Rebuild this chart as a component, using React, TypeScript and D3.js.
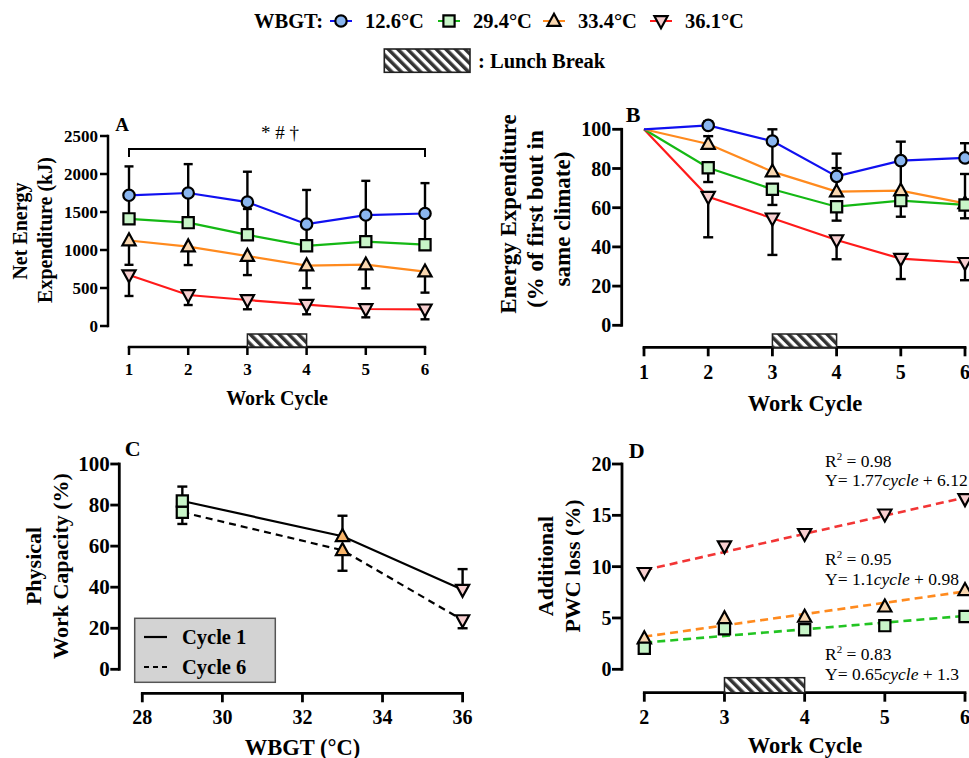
import React from "react";
import * as d3 from "d3";

// ---------- DATA ----------
const cycles = [1, 2, 3, 4, 5, 6];

// Panel A: Net energy expenditure (kJ)
const neeBlue = [1720, 1750, 1630, 1340, 1460, 1480];
const neeBlueErr = [380, 380, 400, 450, 450, 400];
const neeGreen = [1410, 1360, 1200, 1055, 1110, 1070];
const neeGreenErr = [300, 370, 340, 285, 330, 360];
const neeOrange = [1125, 1045, 920, 795, 807, 715];
const neeOrangeErr = [320, 243, 250, 297, 311, 276];
const neeRed = [670, 408, 342, 280, 224, 220];
const neeRedErr = [275, 132, 122, 126, 110, 132];

// Panel B: % of first bout
const pctBlue = [100, 102, 94, 76, 84, 85.4];
const pctBlueErr = [0, 2, 6, 11.6, 9.7, 7.5];
const pctGreen = [100, 80.4, 69.4, 60.5, 63.6, 61.4];
const pctGreenErr = [0, 7.3, 8, 7.1, 8.2, 6.8];
const pctOrange = [100, 92.5, 78.4, 68.2, 68.7, 62.2];
const pctOrangeErr = [0, 4, 14, 12, 15, 15];
const pctRed = [100, 65.6, 54.6, 43.5, 34, 31.9];
const pctRedErr = [0, 20.7, 18.7, 9.8, 10.4, 8.9];

// Panel C: Physical work capacity
const wbgtX = [29, 33, 36];
const wbgtShapes = ["square", "triUp", "triDown"];
const pwcCycle1 = [82, 64.8, 38.8];
const pwcCycle1Err = [7, 10, 10];
const pwcCycle6 = [76.5, 58, 24];
const pwcCycle6Err = [5.7, 10, 4];

// Panel D: Additional PWC loss
const dCycles = [2, 3, 4, 5, 6];
const lossRed = [9.4, 12.0, 13.2, 15.1, 16.6];
const lossOrange = [3.0, 4.95, 5.1, 6.1, 7.7];
const lossGreen = [2.05, 3.95, 3.85, 4.25, 5.15];
const fitRed = { slope: 1.77, intercept: 6.12, r2: "0.98", eq: ["1.77", "6.12"] };
const fitOrange = { slope: 1.1, intercept: 0.98, r2: "0.95", eq: ["1.1", "0.98"] };
const fitGreen = { slope: 0.65, intercept: 1.3, r2: "0.83", eq: ["0.65", "1.3"] };

// ticks
const ticksA = [0, 500, 1000, 1500, 2000, 2500];
const ticksB = [0, 20, 40, 60, 80, 100];
const ticksC = [0, 20, 40, 60, 80, 100];
const ticksCx = [28, 30, 32, 34, 36];
const ticksD = [0, 5, 10, 15, 20];

const legendItems = [
  { label: "12.6°C", color: "#1010f0", fill: "#8ab6f0", shape: "circle" },
  { label: "29.4°C", color: "#14b814", fill: "#c8f5c8", shape: "square" },
  { label: "33.4°C", color: "#ff8a1e", fill: "#f9d7b0", shape: "triUp" },
  { label: "36.1°C", color: "#ff1a1a", fill: "#f7cfd0", shape: "triDown" },
];

// ---------- STYLE ----------
const FONT = "'Liberation Serif', 'Times New Roman', Times, serif";
const BLUE = legendItems[0];
const GREEN = legendItems[1];
const ORANGE = legendItems[2];
const RED = legendItems[3];

function markerPath(shape: string, s = 1) {
  if (shape === "circle") return d3.symbol(d3.symbolCircle, Math.PI * 5.7 * 5.7 * s * s)() as string;
  if (shape === "square") {
    const h = 5.6 * s;
    return `M${-h},${-h}H${h}V${h}H${-h}Z`;
  }
  if (shape === "triUp") return `M0,${-7.2 * s}L${6.6 * s},${4.8 * s}L${-6.6 * s},${4.8 * s}Z`;
  return `M0,${7.2 * s}L${6.6 * s},${-4.8 * s}L${-6.6 * s},${-4.8 * s}Z`;
}

function Marker({ shape, x, y, fill, s = 1 }: any) {
  return (
    <path
      d={markerPath(shape, s)}
      transform={`translate(${x},${y})`}
      fill={fill}
      stroke="#000"
      strokeWidth={2.2}
      strokeLinejoin="miter"
    />
  );
}

function ErrBar({ x, y0, y1, cap = 9, w = 2.4 }: any) {
  return (
    <g stroke="#000" strokeWidth={w}>
      <line x1={x} x2={x} y1={y0} y2={y1} />
      <line x1={x - cap / 2} x2={x + cap / 2} y1={y1} y2={y1} />
    </g>
  );
}

function YAxis({ scale, ticks, x, fs, w = 2.8, tl = 8, gap = 3, fmt = (d: number) => String(d) }: any) {
  const [r0, r1] = scale.range();
  return (
    <g>
      <line x1={x} x2={x} y1={r0 + w / 2} y2={r1 - w / 2} stroke="#000" strokeWidth={w} />
      {ticks.map((t: number) => (
        <g key={t}>
          <line x1={x - tl} x2={x} y1={scale(t)} y2={scale(t)} stroke="#000" strokeWidth={w} />
          <text
            x={x - tl - gap}
            y={scale(t)}
            textAnchor="end"
            dominantBaseline="central"
            fontFamily={FONT}
            fontWeight="bold"
            fontSize={fs}
          >
            {fmt(t)}
          </text>
        </g>
      ))}
    </g>
  );
}

function XAxis({ scale, ticks, y, fs, w = 2.8, tl = 8, labelDy = 24 }: any) {
  const [r0, r1] = scale.range();
  return (
    <g>
      <line x1={r0 - w / 2} x2={r1 + w / 2} y1={y} y2={y} stroke="#000" strokeWidth={w} />
      {ticks.map((t: number) => (
        <g key={t}>
          <line x1={scale(t)} x2={scale(t)} y1={y} y2={y + tl} stroke="#000" strokeWidth={w} />
          <text
            x={scale(t)}
            y={y + labelDy}
            textAnchor="middle"
            dominantBaseline="central"
            fontFamily={FONT}
            fontWeight="bold"
            fontSize={fs}
          >
            {t}
          </text>
        </g>
      ))}
    </g>
  );
}

function BoldText({ x, y, fs, children, anchor = "middle", rotate = false }: any) {
  return (
    <text
      x={rotate ? 0 : x}
      y={rotate ? 0 : y}
      transform={rotate ? `translate(${x},${y}) rotate(-90)` : undefined}
      textAnchor={anchor}
      dominantBaseline="central"
      fontFamily={FONT}
      fontWeight="bold"
      fontSize={fs}
    >
      {children}
    </text>
  );
}

function Lunch({ xs, x0, x1, y, h = 13.5 }: any) {
  return (
    <rect
      x={xs(x0)}
      y={y - h}
      width={xs(x1) - xs(x0)}
      height={h}
      fill="url(#hatch)"
      stroke="#222"
      strokeWidth={1.5}
    />
  );
}

function Series({ xs, ys, xv, vals, errs, dir, item, lw = 2.2, cap = 9 }: any) {
  const line = d3
    .line<number>()
    .x((_, i) => xs(xv[i]))
    .y((d) => ys(d));
  return (
    <g>
      <path d={line(vals) as string} fill="none" stroke={item.color} strokeWidth={lw} />
      {vals.map((v: number, i: number) =>
        errs && errs[i] > 0 ? (
          <ErrBar key={"e" + i} x={xs(xv[i])} y0={ys(v)} y1={ys(v + dir * errs[i])} cap={cap} />
        ) : null
      )}
    </g>
  );
}

function SeriesMarkers({ xs, ys, xv, vals, item, skipFirst = false }: any) {
  return (
    <g>
      {vals.map((v: number, i: number) =>
        skipFirst && i === 0 ? null : (
          <Marker key={i} shape={item.shape} x={xs(xv[i])} y={ys(v)} fill={item.fill} />
        )
      )}
    </g>
  );
}

export default function App() {
  // Panel scales
  const xA = d3.scaleLinear().domain([1, 6]).range([129, 425]);
  const yA = d3.scaleLinear().domain([0, 2500]).range([326, 136]);
  const xB = d3.scaleLinear().domain([1, 6]).range([644, 965]);
  const yB = d3.scaleLinear().domain([0, 100]).range([325.3, 129.3]);
  const xC = d3.scaleLinear().domain([28, 36]).range([142.3, 462.6]);
  const yC = d3.scaleLinear().domain([0, 100]).range([669.3, 464]);
  const xD = d3.scaleLinear().domain([2, 6]).range([644.3, 965]);
  const yD = d3.scaleLinear().domain([0, 20]).range([669.3, 464]);

  const lineC = (vals: number[]) =>
    d3
      .line<number>()
      .x((_, i) => xC(wbgtX[i]))
      .y((d) => yC(d))(vals) as string;

  const fits = [
    { fit: fitRed, item: RED, vals: lossRed, color: "#f23535" },
    { fit: fitOrange, item: ORANGE, vals: lossOrange, color: "#ff8a1e" },
    { fit: fitGreen, item: GREEN, vals: lossGreen, color: "#22c422" },
  ];
  const annY = [
    [466.5, 486],
    [565, 585],
    [660, 679.5],
  ];

  return (
    <svg
      width={969}
      height={758}
      style={{ position: "absolute", left: 0, top: 0, background: "#fff" }}
      fontFamily={FONT}
    >
      <defs>
        <pattern id="hatch" patternUnits="userSpaceOnUse" width={6.8} height={6.8} patternTransform="rotate(-45)">
          <rect width={6.8} height={6.8} fill="#fff" />
          <rect width={3.5} height={6.8} fill="#333" />
        </pattern>
      </defs>
      <rect width={969} height={758} fill="#fff" />

      {/* ---------- Top legend ---------- */}
      <BoldText x={254} y={21} fs={20.5} anchor="start">
        WBGT:
      </BoldText>
      {legendItems.map((it, i) => {
        const mx = [341, 449, 554, 661][i];
        const tx = [365, 473, 578, 685][i];
        return (
          <g key={it.label}>
            <line x1={mx - 11} x2={mx + 11} y1={21} y2={21} stroke={it.color} strokeWidth={2} />
            <Marker shape={it.shape} x={mx} y={21} fill={it.fill} />
            <BoldText x={tx} y={21} fs={20.5} anchor="start">
              {it.label}
            </BoldText>
          </g>
        );
      })}
      <rect x={384.3} y={49} width={85.7} height={23.3} fill="url(#hatch)" stroke="#222" strokeWidth={1.6} />
      <BoldText x={478} y={61} fs={20.5} anchor="start">
        : Lunch Break
      </BoldText>

      {/* ---------- Panel A ---------- */}
      <BoldText x={122} y={124} fs={19}>A</BoldText>
      <BoldText x={20} y={231} fs={20} rotate>Net Energy</BoldText>
      <BoldText x={44.5} y={230} fs={20} rotate>Expenditure (kJ)</BoldText>
      <YAxis scale={yA} ticks={ticksA} x={108} fs={17} w={2.5} tl={8} gap={2} />
      <XAxis scale={xA} ticks={cycles} y={347} fs={17} w={2.5} tl={8} labelDy={22} />
      <Lunch xs={xA} x0={3} x1={4} y={347} h={13} />
      <BoldText x={277} y={398} fs={20}>Work Cycle</BoldText>
      <path
        d={`M${xA(1)},157V149H${xA(6)}V157`}
        fill="none"
        stroke="#000"
        strokeWidth={2}
      />
      <text x={280} y={132} textAnchor="middle" dominantBaseline="central" fontFamily={FONT} fontSize={19}>
        * # †
      </text>
      <Series xs={xA} ys={yA} xv={cycles} vals={neeRed} errs={neeRedErr} dir={-1} item={RED} />
      <Series xs={xA} ys={yA} xv={cycles} vals={neeOrange} errs={neeOrangeErr} dir={-1} item={ORANGE} />
      <Series xs={xA} ys={yA} xv={cycles} vals={neeGreen} errs={neeGreenErr} dir={1} item={GREEN} />
      <Series xs={xA} ys={yA} xv={cycles} vals={neeBlue} errs={neeBlueErr} dir={1} item={BLUE} />
      <SeriesMarkers xs={xA} ys={yA} xv={cycles} vals={neeRed} item={RED} />
      <SeriesMarkers xs={xA} ys={yA} xv={cycles} vals={neeOrange} item={ORANGE} />
      <SeriesMarkers xs={xA} ys={yA} xv={cycles} vals={neeGreen} item={GREEN} />
      <SeriesMarkers xs={xA} ys={yA} xv={cycles} vals={neeBlue} item={BLUE} />

      {/* ---------- Panel B ---------- */}
      <BoldText x={633} y={114} fs={22}>B</BoldText>
      <BoldText x={508} y={214} fs={23} rotate>Energy Expenditure</BoldText>
      <BoldText x={535} y={219} fs={23} rotate>(% of first bout in</BoldText>
      <BoldText x={562} y={219} fs={23} rotate>same climate)</BoldText>
      <YAxis scale={yB} ticks={ticksB} x={621.7} fs={20} w={2.8} tl={9.5} gap={1} />
      <XAxis scale={xB} ticks={cycles} y={347.3} fs={20} w={2.8} tl={9} labelDy={25} />
      <Lunch xs={xB} x0={3} x1={4} y={347.3} h={13.3} />
      <BoldText x={805} y={403} fs={22.5}>Work Cycle</BoldText>
      <Series xs={xB} ys={yB} xv={cycles} vals={pctRed} errs={pctRedErr} dir={-1} item={RED} cap={10} />
      <Series xs={xB} ys={yB} xv={cycles} vals={pctGreen} errs={pctGreenErr} dir={-1} item={GREEN} cap={10} />
      <Series xs={xB} ys={yB} xv={cycles} vals={pctOrange} errs={pctOrangeErr} dir={1} item={ORANGE} cap={10} />
      <Series xs={xB} ys={yB} xv={cycles} vals={pctBlue} errs={pctBlueErr} dir={1} item={BLUE} cap={10} />
      <SeriesMarkers xs={xB} ys={yB} xv={cycles} vals={pctRed} item={RED} skipFirst />
      <SeriesMarkers xs={xB} ys={yB} xv={cycles} vals={pctOrange} item={ORANGE} skipFirst />
      <SeriesMarkers xs={xB} ys={yB} xv={cycles} vals={pctGreen} item={GREEN} skipFirst />
      <SeriesMarkers xs={xB} ys={yB} xv={cycles} vals={pctBlue} item={BLUE} skipFirst />

      {/* ---------- Panel C ---------- */}
      <BoldText x={132.7} y={448} fs={22}>C</BoldText>
      <BoldText x={33} y={566} fs={22} rotate>Physical</BoldText>
      <BoldText x={60} y={566} fs={22} rotate>Work Capacity (%)</BoldText>
      <YAxis scale={yC} ticks={ticksC} x={119.3} fs={21} w={2.8} tl={9} gap={0.5} />
      <XAxis scale={xC} ticks={ticksCx} y={693.3} fs={20} w={2.8} tl={9} labelDy={24} />
      <BoldText x={302.5} y={747} fs={22.5}>WBGT (°C)</BoldText>
      <path d={lineC(pwcCycle1)} fill="none" stroke="#000" strokeWidth={2.2} />
      <path d={lineC(pwcCycle6)} fill="none" stroke="#000" strokeWidth={2.2} strokeDasharray="7,5" />
      {wbgtX.map((x, i) => (
        <g key={"c" + i}>
          <ErrBar x={xC(x)} y0={yC(pwcCycle1[i])} y1={yC(pwcCycle1[i] + pwcCycle1Err[i])} cap={10} />
          <ErrBar x={xC(x)} y0={yC(pwcCycle6[i])} y1={yC(pwcCycle6[i] - pwcCycle6Err[i])} cap={10} />
        </g>
      ))}
      {wbgtX.map((x, i) => {
        const it = legendItems.find((l) => l.shape === wbgtShapes[i])!;
        return (
          <g key={"cm" + i}>
            <Marker shape={it.shape} x={xC(x)} y={yC(pwcCycle6[i])} fill={i === 1 ? "#f7b46a" : it.fill} />
            <Marker shape={it.shape} x={xC(x)} y={yC(pwcCycle1[i])} fill={i === 1 ? "#f7b46a" : it.fill} />
          </g>
        );
      })}
      <rect x={134.7} y={618.3} width={140.6} height={64} fill="#d3d3d3" stroke="#555" strokeWidth={1.5} />
      <line x1={144} x2={167} y1={637} y2={637} stroke="#000" strokeWidth={2.2} />
      <line x1={144} x2={167} y1={667} y2={667} stroke="#000" strokeWidth={2.2} strokeDasharray="5,4" />
      <BoldText x={182} y={637} fs={20.5} anchor="start">Cycle 1</BoldText>
      <BoldText x={182} y={667} fs={20.5} anchor="start">Cycle 6</BoldText>

      {/* ---------- Panel D ---------- */}
      <BoldText x={636.7} y={450} fs={22}>D</BoldText>
      <BoldText x={545} y={566} fs={22} rotate>Additional</BoldText>
      <BoldText x={572} y={566} fs={22} rotate>PWC loss (%)</BoldText>
      <YAxis scale={yD} ticks={ticksD} x={622} fs={20} w={2.8} tl={10} gap={0.5} />
      <XAxis scale={xD} ticks={dCycles} y={692.7} fs={20} w={2.8} tl={9} labelDy={24.6} />
      <Lunch xs={xD} x0={3} x1={4} y={692.7} h={15} />
      <BoldText x={805} y={745} fs={22.5}>Work Cycle</BoldText>
      {fits.map(({ fit, color }, i) => (
        <line
          key={"f" + i}
          x1={xD(2)}
          x2={xD(6)}
          y1={yD(fit.slope * 2 + fit.intercept)}
          y2={yD(fit.slope * 6 + fit.intercept)}
          stroke={color}
          strokeWidth={2.6}
          strokeDasharray="8,5"
        />
      ))}
      <SeriesMarkers xs={xD} ys={yD} xv={dCycles} vals={lossRed} item={RED} />
      <SeriesMarkers xs={xD} ys={yD} xv={dCycles} vals={lossOrange} item={ORANGE} />
      <SeriesMarkers xs={xD} ys={yD} xv={dCycles} vals={lossGreen} item={GREEN} />
      {fits.map(({ fit }, i) => (
        <g key={"a" + i} fontFamily={FONT} fontSize={17.5}>
          <text x={825} y={annY[i][0]}>
            R<tspan dy={-7} fontSize={11}>2</tspan>
            <tspan dy={7}> = {fit.r2}</tspan>
          </text>
          <text x={825} y={annY[i][1]}>
            Y= {fit.eq[0]}
            <tspan fontStyle="italic">cycle</tspan> + {fit.eq[1]}
          </text>
        </g>
      ))}
    </svg>
  );
}
